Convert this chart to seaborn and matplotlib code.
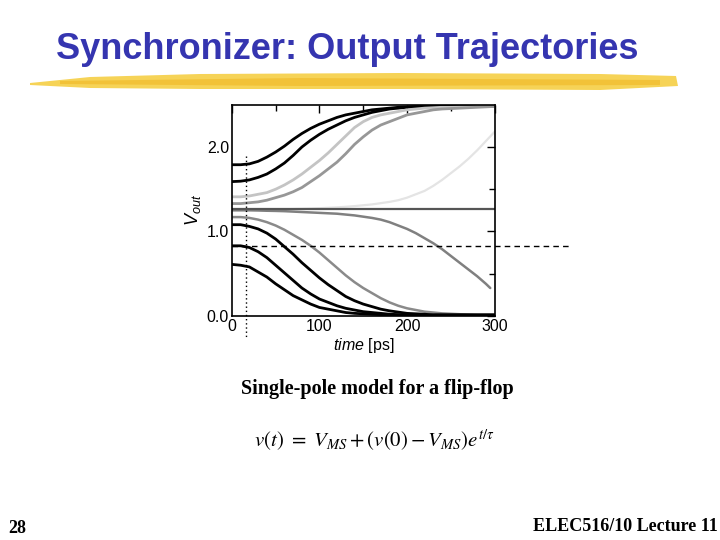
"""Synchronizer output trajectories (single-pole flip-flop model), slide recreation."""
import matplotlib
matplotlib.use('Agg')
import pandas as pd
import matplotlib.pyplot as plt
from matplotlib.patches import Polygon
import seaborn as sns

# time grid [ps]
T = [0, 10, 20, 30, 40, 50, 60, 70, 80, 90, 100, 110, 120, 130, 140, 150,
     160, 170, 180, 190, 200, 210, 220, 230, 240, 250, 260, 270, 280, 290, 300]

# rising trajectories (resolve high)
v_hi1 = [1.79, 1.79, 1.80, 1.83, 1.88, 1.94, 2.01, 2.09, 2.16, 2.22, 2.27, 2.31, 2.35, 2.38, 2.40, 2.42,
         2.44, 2.45, 2.46, 2.47, 2.475, 2.48, 2.48, 2.48, 2.48, 2.48, 2.48, 2.48, 2.48, 2.48, 2.48]
v_hi2 = [1.59, 1.595, 1.61, 1.64, 1.68, 1.74, 1.81, 1.90, 2.00, 2.08, 2.15, 2.21, 2.26, 2.31, 2.35, 2.38,
         2.41, 2.43, 2.45, 2.46, 2.47, 2.475, 2.48, 2.48, 2.48, 2.48, 2.48, 2.48, 2.48, 2.48, 2.48]
v_hi3 = [1.41, 1.41, 1.42, 1.44, 1.46, 1.50, 1.55, 1.61, 1.68, 1.76, 1.84, 1.93, 2.03, 2.13, 2.23, 2.30,
         2.35, 2.38, 2.40, 2.42, 2.44, 2.45, 2.46, 2.465, 2.47, 2.47, 2.475, 2.475, 2.48, 2.48, 2.48]
v_hi4 = [1.33, 1.33, 1.34, 1.35, 1.37, 1.40, 1.43, 1.47, 1.52, 1.59, 1.66, 1.74, 1.82, 1.92, 2.03, 2.12,
         2.20, 2.26, 2.30, 2.34, 2.38, 2.40, 2.42, 2.44, 2.45, 2.455, 2.46, 2.465, 2.47, 2.475, 2.48]
v_hi5 = [1.255, 1.255, 1.256, 1.257, 1.258, 1.26, 1.262, 1.265, 1.268, 1.271, 1.275, 1.28, 1.285, 1.292,
         1.30, 1.31, 1.32, 1.335, 1.35, 1.37, 1.40, 1.44, 1.48, 1.54, 1.61, 1.69, 1.77, 1.86, 1.96, 2.07, 2.18]

# metastable level
V_MS = 1.26

# falling trajectories (resolve low)
T_lo1 = [0, 10, 20, 30, 40, 50, 60, 70, 80, 90, 100, 110, 120, 130, 140, 150,
         160, 170, 180, 190, 200, 210, 220, 230, 240, 250, 260, 270, 280, 290, 295]
v_lo1 = [1.25, 1.25, 1.25, 1.248, 1.245, 1.243, 1.24, 1.235, 1.23, 1.225, 1.22, 1.215, 1.21, 1.20, 1.19,
         1.175, 1.16, 1.14, 1.11, 1.07, 1.03, 0.98, 0.92, 0.86, 0.79, 0.71, 0.63, 0.55, 0.47, 0.38, 0.33]
v_lo2 = [1.17, 1.17, 1.16, 1.14, 1.11, 1.07, 1.02, 0.96, 0.90, 0.83, 0.75, 0.66, 0.57, 0.48, 0.40, 0.33,
         0.27, 0.21, 0.16, 0.12, 0.09, 0.07, 0.05, 0.04, 0.03, 0.025, 0.02, 0.015, 0.01, 0.01, 0.01]
v_lo3 = [1.08, 1.08, 1.06, 1.03, 0.98, 0.91, 0.82, 0.73, 0.63, 0.54, 0.45, 0.37, 0.30, 0.23, 0.18, 0.14,
         0.11, 0.08, 0.06, 0.045, 0.03, 0.025, 0.02, 0.01, 0.01, 0.01, 0.01, 0.01, 0.01, 0.01, 0.01]
v_lo4 = [0.83, 0.83, 0.81, 0.76, 0.69, 0.60, 0.51, 0.42, 0.33, 0.26, 0.20, 0.16, 0.12, 0.09, 0.07, 0.05,
         0.04, 0.03, 0.02, 0.015, 0.01, 0.01, 0.01, 0.01, 0.01, 0.01, 0.01, 0.01, 0.01, 0.01, 0.01]
v_lo5 = [0.61, 0.60, 0.58, 0.52, 0.46, 0.38, 0.31, 0.24, 0.19, 0.14, 0.10, 0.08, 0.06, 0.04, 0.03, 0.025,
         0.02, 0.015, 0.01, 0.01, 0.01, 0.01, 0.01, 0.01, 0.01, 0.01, 0.01, 0.01, 0.01, 0.01, 0.01]

# markers: sampling instant and logic threshold
t_sample = 16
v_thresh = 0.83

curves = [
    ('hi1', T, v_hi1, '#000000', 2.0),
    ('hi2', T, v_hi2, '#000000', 2.0),
    ('hi3', T, v_hi3, '#c4c4c4', 2.0),
    ('hi4', T, v_hi4, '#979797', 2.0),
    ('hi5', T, v_hi5, '#e4e4e4', 1.6),
    ('lo1', T_lo1, v_lo1, '#808080', 1.8),
    ('lo2', T, v_lo2, '#8a8a8a', 1.8),
    ('lo3', T, v_lo3, '#000000', 2.0),
    ('lo4', T, v_lo4, '#000000', 2.0),
    ('lo5', T, v_lo5, '#000000', 2.0),
]

sns.set_theme(style='white')
plt.rcParams['font.family'] = ['Liberation Sans', 'DejaVu Sans']
plt.rcParams['mathtext.fontset'] = 'custom'
plt.rcParams['mathtext.it'] = 'Liberation Sans:italic'
plt.rcParams['mathtext.rm'] = 'Liberation Sans'

fig = plt.figure(figsize=(7.2, 5.4), dpi=100)
fig.patch.set_facecolor('white')

# title + yellow brush stroke
fig.text(0.482, 0.908, 'Synchronizer: Output Trajectories', ha='center', va='center',
         fontsize=26, fontweight='bold', color='#3535b0')
stroke = [(30, 83), (90, 77), (200, 74), (400, 73), (600, 74), (676, 76), (678, 86),
          (600, 90), (400, 89), (200, 89), (90, 88), (30, 85)]
fig.patches.append(Polygon([(x / 720, 1 - y / 540) for x, y in stroke], closed=True,
                           transform=fig.transFigure, facecolor='#f5cf45', edgecolor='none',
                           alpha=0.9, figure=fig))
fig.patches.append(Polygon([(x / 720, 1 - y / 540) for x, y in
                            [(60, 81), (300, 78), (660, 80), (660, 85), (300, 86), (60, 84)]],
                           closed=True, transform=fig.transFigure, facecolor='#f0b824',
                           edgecolor='none', alpha=0.6, figure=fig))

ax = fig.add_axes([0.322, 0.415, 0.365, 0.391])

df = pd.concat([pd.DataFrame({'time': t, 'v': v, 'curve': name})
                for name, t, v, _, _ in curves], ignore_index=True)
for name, _, _, color, lw in curves:
    sns.lineplot(data=df[df['curve'] == name], x='time', y='v', color=color, lw=lw,
                 ax=ax, estimator=None, sort=False, legend=False)

ax.axhline(V_MS, color='#555555', lw=1.6)
ax.plot([0, 385], [v_thresh, v_thresh], ls=(0, (4, 3)), color='black', lw=1.0, clip_on=False)
ax.plot([t_sample, t_sample], [1.89, -0.25], ls=(0, (1, 2)), color='black', lw=1.0, clip_on=False)

ax.set_xlim(0, 300)
ax.set_ylim(0, 2.5)
ax.set_xticks([0, 100, 200, 300])
ax.set_xticks([50, 150, 250], minor=True)
ax.set_yticks([0.0, 1.0, 2.0])
ax.set_yticklabels(['0.0', '1.0', '2.0'])
ax.set_yticks([0.5, 1.5], minor=True)
ax.tick_params(which='both', direction='in', top=True, right=True, color='black',
               labelsize=11.5, labelcolor='black', pad=2)
ax.tick_params(which='major', length=6, width=1)
ax.tick_params(which='minor', length=4, width=1)
for s in ax.spines.values():
    s.set_color('black')
    s.set_linewidth(1.2)
ax.set_xlabel(r'$time$ [ps]', fontsize=11.5, color='black', labelpad=2)
ax.set_ylabel(r'$V_{out}$', fontsize=13, color='black', labelpad=3)

fig.text(0.524, 0.280, 'Single-pole model for a flip-flop', ha='center', va='center',
         fontsize=14.5, fontweight='bold', family='Liberation Serif', color='black')
fig.text(0.520, 0.185, r'$v(t)\ =\ V_{MS} + (v(0) - V_{MS})e^{t/\tau}$', ha='center',
         va='center', fontsize=15, color='black', math_fontfamily='stix')

fig.text(0.011, 0.022, '28', ha='left', va='center', fontsize=13, fontweight='bold',
         family='Liberation Serif', color='black')
fig.text(0.997, 0.025, 'ELEC516/10 Lecture 11', ha='right', va='center', fontsize=13,
         fontweight='bold', family='Liberation Serif', color='black')

fig.savefig('out.png', dpi=100)
